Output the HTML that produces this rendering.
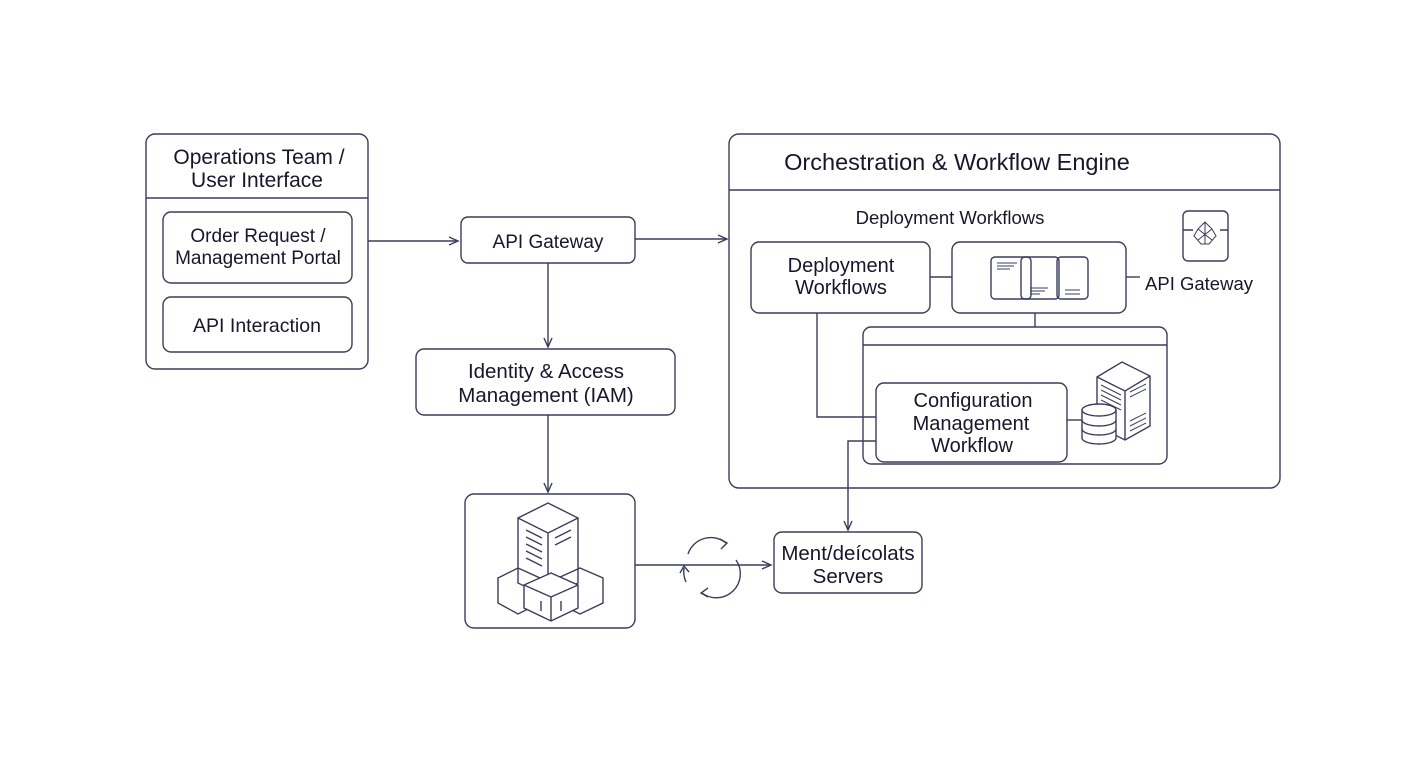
<!DOCTYPE html>
<html><head><meta charset="utf-8"><style>
html,body{margin:0;padding:0;background:#fff;width:1408px;height:768px;overflow:hidden}
svg{display:block}
text{font-family:"Liberation Sans",sans-serif;fill:#16172a;text-anchor:middle}
</style></head><body>
<svg width="1408" height="768" viewBox="0 0 1408 768" xmlns="http://www.w3.org/2000/svg">
<defs>
<marker id="a" markerWidth="12" markerHeight="10" refX="10" refY="5" orient="auto" markerUnits="userSpaceOnUse">
<path d="M1,1 L10,5 L1,9" fill="none" stroke="#3a3d5c" stroke-width="1.4"/>
</marker>
</defs>
<g fill="none" stroke="#3a3d5c" stroke-width="1.4">
<rect x="146" y="134" width="222" height="235" rx="9"/>
<line x1="146" y1="198" x2="368" y2="198"/>
<rect x="163" y="212" width="189" height="71" rx="8"/>
<rect x="163" y="297" width="189" height="55" rx="8"/>
<rect x="461" y="217" width="174" height="46" rx="7"/>
<line x1="368" y1="241" x2="458" y2="241" marker-end="url(#a)"/>
<line x1="635" y1="239" x2="727" y2="239" marker-end="url(#a)"/>
<line x1="548" y1="263" x2="548" y2="347" marker-end="url(#a)"/>
<rect x="416" y="349" width="259" height="66" rx="8"/>
<line x1="548" y1="415" x2="548" y2="492" marker-end="url(#a)"/>
<rect x="465" y="494" width="170" height="134" rx="9"/>
<line x1="635" y1="565" x2="771" y2="565" marker-end="url(#a)"/>
<rect x="774" y="532" width="148" height="61" rx="8"/>
<path d="M688,554 A24,24 0 0 1 726,543"/>
<path d="M720,539 L727,543 L721,549"/>
<path d="M736,560 A24,24 0 0 1 702,593"/>
<path d="M708,588 L701,593 L708,597"/>
<path d="M686,582 A24,24 0 0 1 684,568"/>
<path d="M680,573 L684,566 L689,572"/>
<path d="M518,518 L548,503 L578,518 L578,583 L548,598 L518,583 Z"/>
<path d="M518,518 L548,533 L578,518 M548,533 L548,598"/>
<path d="M526,530 L542,538 M526,537 L542,545 M526,544 L542,552 M526,551 L542,559 M526,558 L542,566 M555,538 L571,530 M555,545 L571,537"/>
<path d="M498,578 L518,568 L540,578 L540,603 L518,614 L498,603 Z"/>
<path d="M558,578 L580,568 L603,578 L603,603 L580,614 L558,603 Z"/>
<path d="M524,585 L551,573 L578,585 L578,608 L551,621 L524,608 Z" fill="#fff"/>
<path d="M524,585 L551,597 L578,585 M551,597 L551,621 M541,601 L541,611 M561,601 L561,611"/>
<rect x="729" y="134" width="551" height="354" rx="10"/>
<line x1="729" y1="190" x2="1280" y2="190"/>
<rect x="751" y="242" width="179" height="71" rx="8"/>
<line x1="930" y1="277" x2="952" y2="277"/>
<rect x="952" y="242" width="174" height="71" rx="8"/>
<line x1="1126" y1="277" x2="1140" y2="277"/>
<rect x="991" y="257" width="40" height="42" rx="4"/>
<rect x="1021" y="257" width="38" height="42" rx="4"/>
<rect x="1057" y="257" width="31" height="42" rx="4"/>
<path d="M997,263 L1017,263 M997,266 L1014,266 M997,269 L1010,269 M1030,288 L1048,288 M1030,291 L1045,291 M1030,294 L1040,294 M1065,290 L1080,290 M1065,294 L1080,294" stroke-width="1"/>
<rect x="1183" y="211" width="45" height="50" rx="5"/>
<path d="M1183,230 L1193,230 M1220,230 L1228,230"/>
<path d="M1205,222 L1212,229 L1216,236 L1209,244 L1201,244 L1194,236 L1198,229 Z M1205,222 L1205,244 M1198,229 L1212,240 M1212,229 L1198,240" stroke-width="1"/>
<line x1="1035" y1="313" x2="1035" y2="327"/>
<rect x="863" y="327" width="304" height="137" rx="8"/>
<line x1="863" y1="345" x2="1167" y2="345"/>
<rect x="876" y="383" width="191" height="79" rx="8"/>
<path d="M817,313 L817,417 L876,417"/>
<path d="M876,441 L848,441 L848,530" marker-end="url(#a)"/>
<line x1="1067" y1="420" x2="1082" y2="420"/>
<path d="M1097,377 L1122,362 L1150,376 L1150,426 L1125,440 L1097,426 Z"/>
<path d="M1097,377 L1125,391 L1150,376 M1125,391 L1125,440"/>
<path d="M1101,385 L1121,395 M1101,390 L1121,400 M1101,395 L1121,405 M1101,400 L1121,410 M1130,392 L1146,384 M1130,397 L1146,389 M1130,421 L1146,413 M1130,426 L1146,418 M1130,431 L1146,423" stroke-width="1"/>
<path d="M1082,410 L1082,438 A17,6 0 0 0 1116,438 L1116,410 Z" fill="#fff"/>
<ellipse cx="1099" cy="410" rx="17" ry="6" fill="#fff"/>
<path d="M1082,420 A17,6 0 0 0 1116,420 M1082,429 A17,6 0 0 0 1116,429"/>
</g>
<text x="259" y="164" font-size="21">Operations Team /</text>
<text x="257" y="187" font-size="21">User Interface</text>
<text x="258" y="242" font-size="19">Order Request /</text>
<text x="258" y="264" font-size="19">Management Portal</text>
<text x="257" y="332" font-size="19.5">API Interaction</text>
<text x="548" y="248" font-size="19">API Gateway</text>
<text x="546" y="378" font-size="20.5">Identity &amp; Access</text>
<text x="546" y="402" font-size="20.5">Management (IAM)</text>
<text x="848" y="560" font-size="20.5">Ment/deícolats</text>
<text x="848" y="583" font-size="20.5">Servers</text>
<text x="957" y="170" font-size="23.5">Orchestration &amp; Workflow Engine</text>
<text x="950" y="224" font-size="18.5">Deployment Workflows</text>
<text x="841" y="272" font-size="20">Deployment</text>
<text x="841" y="294" font-size="20">Workflows</text>
<text x="1199" y="290" font-size="18.5">API Gateway</text>
<text x="973" y="407" font-size="20">Configuration</text>
<text x="971" y="430" font-size="20">Management</text>
<text x="972" y="452" font-size="20">Workflow</text>
</svg>
</body></html>
